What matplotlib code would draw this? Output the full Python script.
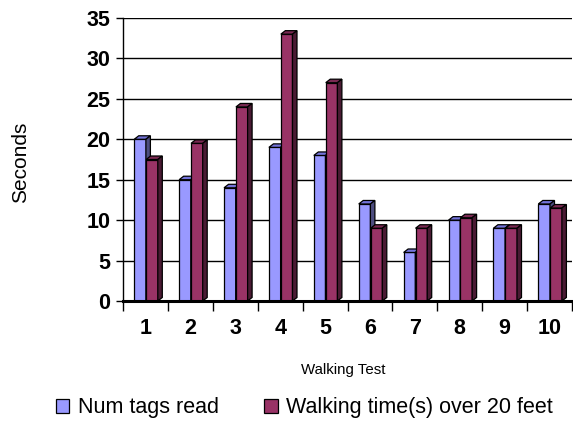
import matplotlib
matplotlib.use("Agg")
import matplotlib.pyplot as plt
from matplotlib.patches import Polygon, Patch
import numpy as np

plt.rcParams['font.family'] = ['Liberation Sans', 'DejaVu Sans']

categories = ["1", "2", "3", "4", "5", "6", "7", "8", "9", "10"]
num_tags_read = [20, 15, 14, 19, 18, 12, 6, 10, 9, 12]
walking_time = [17.5, 19.5, 24, 33, 27, 9, 9, 10.3, 9, 11.5]
series_names = ["Num tags read", "Walking time(s) over 20 feet"]
y_ticks = [0, 5, 10, 15, 20, 25, 30, 35]

front_colors = ["#9999FF", "#993366"]
top_colors = ["#7373D9", "#7A2952"]
side_colors = ["#4D4D80", "#4A1A33"]

W, H, DPI = 573, 426, 100
fig = plt.figure(figsize=(W / DPI, H / DPI), dpi=DPI)
ax = fig.add_axes([123 / W, 1 - 301 / H, 449 / W, 283 / H])

x = np.arange(1, len(categories) + 1)
ax.set_xlim(0.5, len(categories) + 0.5)
ax.set_ylim(0, 35)

# depth of the 3-D bars, expressed in pixels and converted to data units
depth_px = (4.5, 3.5)
ddx = depth_px[0] * (ax.get_xlim()[1] - ax.get_xlim()[0]) / (449)
ddy = depth_px[1] * (ax.get_ylim()[1] - ax.get_ylim()[0]) / (283)

bar_w = 0.26
offsets = [-0.12, 0.145]
series = [num_tags_read, walking_time]

for yv in y_ticks[1:]:
    ax.axhline(yv, color="black", lw=1.0, zorder=1)

z = 3
for i in range(len(categories)):
    for s, vals in enumerate(series):
        v = vals[i]
        xc = x[i] + offsets[s]
        bars = ax.bar(xc, v, width=bar_w, color=front_colors[s],
                      edgecolor="black", linewidth=0.9, zorder=z)
        r = bars[0]
        x0 = r.get_x()
        x1 = x0 + r.get_width()
        top = [(x0, v), (x1, v), (x1 + ddx, v + ddy), (x0 + ddx, v + ddy)]
        side = [(x1, 0), (x1 + ddx, ddy), (x1 + ddx, v + ddy), (x1, v)]
        ax.add_patch(Polygon(top, closed=True, facecolor=top_colors[s],
                             edgecolor="black", linewidth=0.9, zorder=z))
        ax.add_patch(Polygon(side, closed=True, facecolor=side_colors[s],
                             edgecolor="black", linewidth=0.9, zorder=z))
        z += 1

for sp in ["top", "right"]:
    ax.spines[sp].set_visible(False)
ax.spines["left"].set_linewidth(1.0)
ax.spines["bottom"].set_linewidth(2.2)
ax.spines["bottom"].set_zorder(50)

ax.set_yticks(y_ticks)
ax.set_yticklabels([str(t) for t in y_ticks], fontsize=15.5, fontweight="bold")
ax.tick_params(axis="y", length=5, width=1.0, pad=4, direction="out")

ax.set_xticks(x)
ax.set_xticklabels(categories, fontsize=15.5, fontweight="bold")
ax.set_xticks(np.arange(0.5, len(categories) + 1), minor=True)
ax.tick_params(axis="x", which="major", length=0, pad=12)
ax.tick_params(axis="x", which="minor", length=7, width=1.0, direction="out")

fig.text(20.5 / W, 1 - 162 / H, "Seconds", rotation=90, fontsize=15,
         ha="center", va="center")
fig.text(343 / W, 1 - 370 / H, "Walking Test", fontsize=10.8,
         ha="center", va="center")

handles = [Patch(facecolor=front_colors[k], edgecolor="black", linewidth=0.9,
                 label=series_names[k]) for k in range(2)]
fig.legend(handles=handles, loc="center", ncol=2,
           bbox_to_anchor=(304.5 / W, 1 - 408 / H), frameon=False,
           fontsize=15.5, handlelength=0.62, handleheight=0.62,
           handletextpad=0.4, columnspacing=2.1, borderpad=0)

fig.savefig("out.png", dpi=DPI)
